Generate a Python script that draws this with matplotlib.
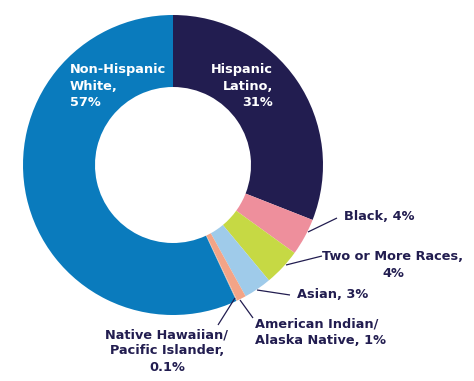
import matplotlib
matplotlib.use("Agg")
import matplotlib.pyplot as plt

categories = ["Hispanic Latino", "Black", "Two or More Races", "Asian",
              "American Indian/Alaska Native", "Native Hawaiian/Pacific Islander",
              "Non-Hispanic White"]
values = [31, 4, 4, 3, 1, 0.1, 57]
labels = ["Hispanic\nLatino,\n31%", "Black, 4%", "Two or More Races,\n4%", "Asian, 3%",
          "American Indian/\nAlaska Native, 1%", "Native Hawaiian/\nPacific Islander,\n0.1%",
          "Non-Hispanic\nWhite,\n57%"]
colors = ["#221d50", "#ee8f9c", "#c6d944", "#9fcbea", "#f3a487", "#e9b9a0", "#0a7bbd"]

W, H = 474, 381
fig = plt.figure(figsize=(W / 100, H / 100), dpi=100)
ax = fig.add_axes([0, 0, 1, 1])

cx, cy, R = 173, H - 165, 150
ax.pie(values, colors=colors, startangle=90, counterclock=False,
       center=(cx, cy), radius=R, frame=True,
       wedgeprops=dict(width=R * 0.48, linewidth=0))
ax.set_xlim(0, W)
ax.set_ylim(0, H)
ax.set_aspect("equal")
ax.axis("off")

navy = "#221d50"
fs = 9.3
font = dict(fontsize=fs, fontweight="bold", family="DejaVu Sans", linespacing=1.32)

def Y(py):
    return H - py

# inside labels
ax.text(70, Y(86), labels[6], color="white", ha="left", va="center", **font)
ax.text(273, Y(86), labels[0], color="white", ha="right", va="center", multialignment="right", **font)

# outside labels
ax.text(344, Y(217), labels[1], color=navy, ha="left", va="center", **font)
ax.text(393, Y(265), labels[2], color=navy, ha="center", va="center", multialignment="center", **font)
ax.text(297, Y(295), labels[3], color=navy, ha="left", va="center", **font)
ax.text(255, Y(332), labels[4], color=navy, ha="left", va="center", multialignment="left", **font)
ax.text(167, Y(351), labels[5], color=navy, ha="center", va="center", multialignment="center", **font)

# leader lines
lines = [((308, 232), (337, 218)),
         ((286, 265), (322, 256)),
         ((257, 290), (290, 295)),
         ((240, 300), (253, 318)),
         ((235, 298), (218, 325))]
for (x0, y0), (x1, y1) in lines:
    ax.plot([x0, x1], [Y(y0), Y(y1)], color=navy, lw=0.9, solid_capstyle="butt")

fig.savefig("out.png", dpi=100)
